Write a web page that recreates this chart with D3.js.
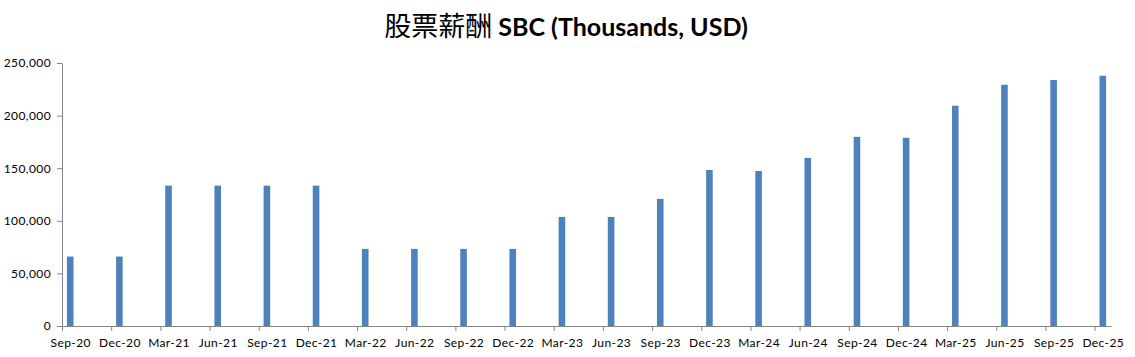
<!DOCTYPE html>
<html>
<head>
<meta charset="utf-8">
<script src="https://cdn.jsdelivr.net/npm/d3@7"></script>
<style>
  html, body { margin: 0; padding: 0; background: #fff; }
  svg { display: block; }
</style>
</head>
<body>
<svg id="chart" width="1135" height="357"></svg>
<script>
const titleCJK = "股票薪酬";
const titleLatin = " SBC (Thousands, USD)";
const categories = ["Sep-20","Dec-20","Mar-21","Jun-21","Sep-21","Dec-21","Mar-22","Jun-22","Sep-22","Dec-22","Mar-23","Jun-23","Sep-23","Dec-23","Mar-24","Jun-24","Sep-24","Dec-24","Mar-25","Jun-25","Sep-25","Dec-25"];
const values = [66000, 66000, 133400, 133400, 133400, 133400, 73300, 73300, 73300, 73300, 103700, 103700, 120800, 148300, 147300, 159800, 179800, 178900, 209400, 229300, 233800, 237900];
const yTicks = [0, 50000, 100000, 150000, 200000, 250000];

const svg = d3.select("#chart");
const plotLeft = 62, plotRight = 1111, plotTop = 63, plotBottom = 326;
const monthsPerCat = 3;
const nSlots = (categories.length - 1) * monthsPerCat + 1;

const x = d3.scaleLinear().domain([0, nSlots]).range([plotLeft, plotRight]);
const y = d3.scaleLinear().domain([0, 250000]).range([plotBottom, plotTop]);
const slotW = x(1) - x(0);
const barW = 6.6;
const axisColor = "#868686";
const font = "Lato, 'Liberation Sans', sans-serif";

// bars
svg.append("g").selectAll("rect").data(values).join("rect")
  .attr("x", (d, i) => x(i * monthsPerCat + 0.5) - barW / 2)
  .attr("y", d => y(d))
  .attr("width", barW)
  .attr("height", d => y(0) - y(d))
  .attr("fill", "#4F81BD");

// y axis
const yAxis = svg.append("g").attr("transform", `translate(${plotLeft},0)`)
  .call(d3.axisLeft(y).tickValues(yTicks).tickFormat(d3.format(",")).tickSize(5).tickSizeOuter(0).tickPadding(6));
yAxis.select(".domain").attr("stroke", axisColor);
yAxis.selectAll(".tick line").attr("stroke", axisColor);
yAxis.selectAll("text").attr("font-family", font).attr("font-size", 12).attr("fill", "#000").attr("letter-spacing", "0.4px");

// x axis
const xAxis = svg.append("g").attr("transform", `translate(0,${plotBottom})`)
  .call(d3.axisBottom(x).tickValues(categories.map((c, i) => i * monthsPerCat)).tickFormat((d, i) => categories[i]).tickSize(5).tickSizeOuter(0).tickPadding(7));
xAxis.select(".domain").attr("stroke", axisColor);
xAxis.selectAll(".tick line").attr("stroke", axisColor);
xAxis.selectAll("text").attr("font-family", font).attr("font-size", 12).attr("fill", "#000")
  .attr("letter-spacing", "0.4px")
  .attr("dx", slotW / 2);

// title
const t = svg.append("text").attr("x", 566).attr("y", 36).attr("text-anchor", "middle").attr("fill", "#000");
t.append("tspan").text(titleCJK).attr("font-family", "'Noto Sans CJK TC', sans-serif").attr("font-size", 27).attr("font-weight", 400);
t.append("tspan").text(titleLatin).attr("font-family", font).attr("font-size", 25).attr("font-weight", 700);
</script>
</body>
</html>
